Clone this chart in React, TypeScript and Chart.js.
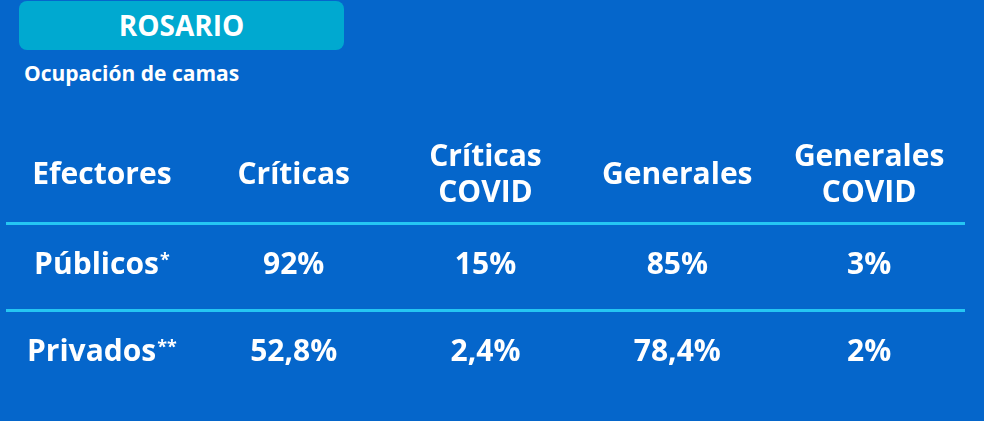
import React, { useEffect, useRef } from 'react';
import { Chart, registerables } from 'chart.js';

Chart.register(...registerables);

// ---- data ----
const title = 'ROSARIO';
const subtitle = 'Ocupación de camas';
const columnHeaders: (string | string[])[] = [
  'Efectores',
  'Críticas',
  ['Críticas', 'COVID'],
  'Generales',
  ['Generales', 'COVID'],
];
const rowLabels = ['Públicos*', 'Privados**'];
const criticas = [92, 52.8];
const criticasCovid = [15, 2.4];
const generales = [85, 78.4];
const generalesCovid = [3, 2];

// ---- styles ----
const BG = '#0566cb';
const LINE = '#25c6f3';
const BOX = '#00a9d0';
const FONT = '"Open Sans", sans-serif';
const CELL_SIZE = 30;

const fmt = (v: number) => String(v).replace('.', ',') + '%';

const valueColumns = [criticas, criticasCovid, generales, generalesCovid];

const cellTextPlugin = {
  id: 'cellText',
  afterDatasetsDraw(chart: any) {
    const ctx = chart.ctx as CanvasRenderingContext2D;
    ctx.save();
    ctx.fillStyle = '#ffffff';
    ctx.textBaseline = 'alphabetic';
    chart.data.datasets.forEach((ds: any, di: number) => {
      const meta = chart.getDatasetMeta(di);
      meta.data.forEach((el: any, i: number) => {
        const text: string = ds.texts[i];
        if (!text) return;
        const m = text.match(/^(.*?)(\*+)$/);
        const base = m ? m[1] : text;
        const sup = m ? m[2] : '';
        const baseFont = `bold ${CELL_SIZE}px ${FONT}`;
        const supFont = `bold 18px ${FONT}`;
        ctx.font = baseFont;
        const wb = ctx.measureText(base).width;
        ctx.font = supFont;
        const ws = sup ? ctx.measureText(sup).width + 1 : 0;
        const left = el.x - (wb + ws) / 2;
        const baseline = el.y + CELL_SIZE * 0.25;
        ctx.textAlign = 'left';
        ctx.font = baseFont;
        ctx.fillText(base, left, baseline);
        if (sup) {
          ctx.font = supFont;
          ctx.fillText(sup, left + wb + 1, baseline - 8);
        }
      });
    });
    ctx.restore();
  },
};

export default function App() {
  const canvasRef = useRef<HTMLCanvasElement | null>(null);

  useEffect(() => {
    document.body.style.margin = '0';
    document.body.style.background = BG;
    const canvas = canvasRef.current;
    if (!canvas) return;

    const datasets = rowLabels.map((rowLabel, r) => ({
      label: rowLabel,
      data: columnHeaders.map(() => r),
      texts: [rowLabel, ...valueColumns.map((col) => fmt(col[r]))],
      showLine: false,
      pointRadius: 0,
      pointHoverRadius: 0,
    }));

    const chart = new Chart(canvas, {
      type: 'line',
      data: {
        labels: columnHeaders as any,
        datasets: datasets as any,
      },
      options: {
        animation: false,
        responsive: false,
        devicePixelRatio: 1,
        events: [],
        layout: { padding: { top: 123, left: 6, right: 19, bottom: 24 } },
        plugins: {
          legend: { display: false },
          tooltip: { enabled: false },
          title: { display: false },
        },
        scales: {
          x: {
            type: 'category',
            position: 'top',
            offset: true,
            grid: { display: false, drawTicks: false },
            border: { display: false },
            afterFit: (scale: any) => {
              scale.height = 100;
            },
            ticks: {
              color: '#ffffff',
              font: { family: FONT, size: 30, weight: 'bold', lineHeight: 1.2 },
              crossAlign: 'center',
              padding: 30,
              maxRotation: 0,
              minRotation: 0,
              autoSkip: false,
            },
          },
          y: {
            type: 'linear',
            reverse: true,
            min: -0.5,
            max: 1.5,
            afterBuildTicks: (scale: any) => {
              scale.ticks = [{ value: -0.5 }, { value: 0.5 }, { value: 1.5 }];
            },
            grid: {
              drawTicks: false,
              lineWidth: 3,
              color: (c: any) => (c.tick && c.tick.value === 1.5 ? 'rgba(0,0,0,0)' : LINE),
            },
            border: { display: false },
            ticks: { display: false },
          },
        },
      },
      plugins: [cellTextPlugin],
    });

    return () => chart.destroy();
  }, []);

  return (
    <div style={{ position: 'relative', width: 984, height: 421, background: BG, overflow: 'hidden' }}>
      <div
        style={{
          position: 'absolute',
          left: 19,
          top: 1,
          width: 325,
          height: 49,
          borderRadius: 8,
          background: BOX,
          color: '#fff',
          fontFamily: FONT,
          fontWeight: 700,
          fontSize: 28,
          lineHeight: '49px',
          textAlign: 'center',
        }}
      >
        {title}
      </div>
      <div
        style={{
          position: 'absolute',
          left: 24,
          top: 62,
          color: '#fff',
          fontFamily: FONT,
          fontWeight: 700,
          fontSize: 21,
          lineHeight: '22px',
          whiteSpace: 'nowrap',
        }}
      >
        {subtitle}
      </div>
      <canvas ref={canvasRef} width={984} height={421} style={{ position: 'absolute', left: 0, top: 0 }} />
    </div>
  );
}
